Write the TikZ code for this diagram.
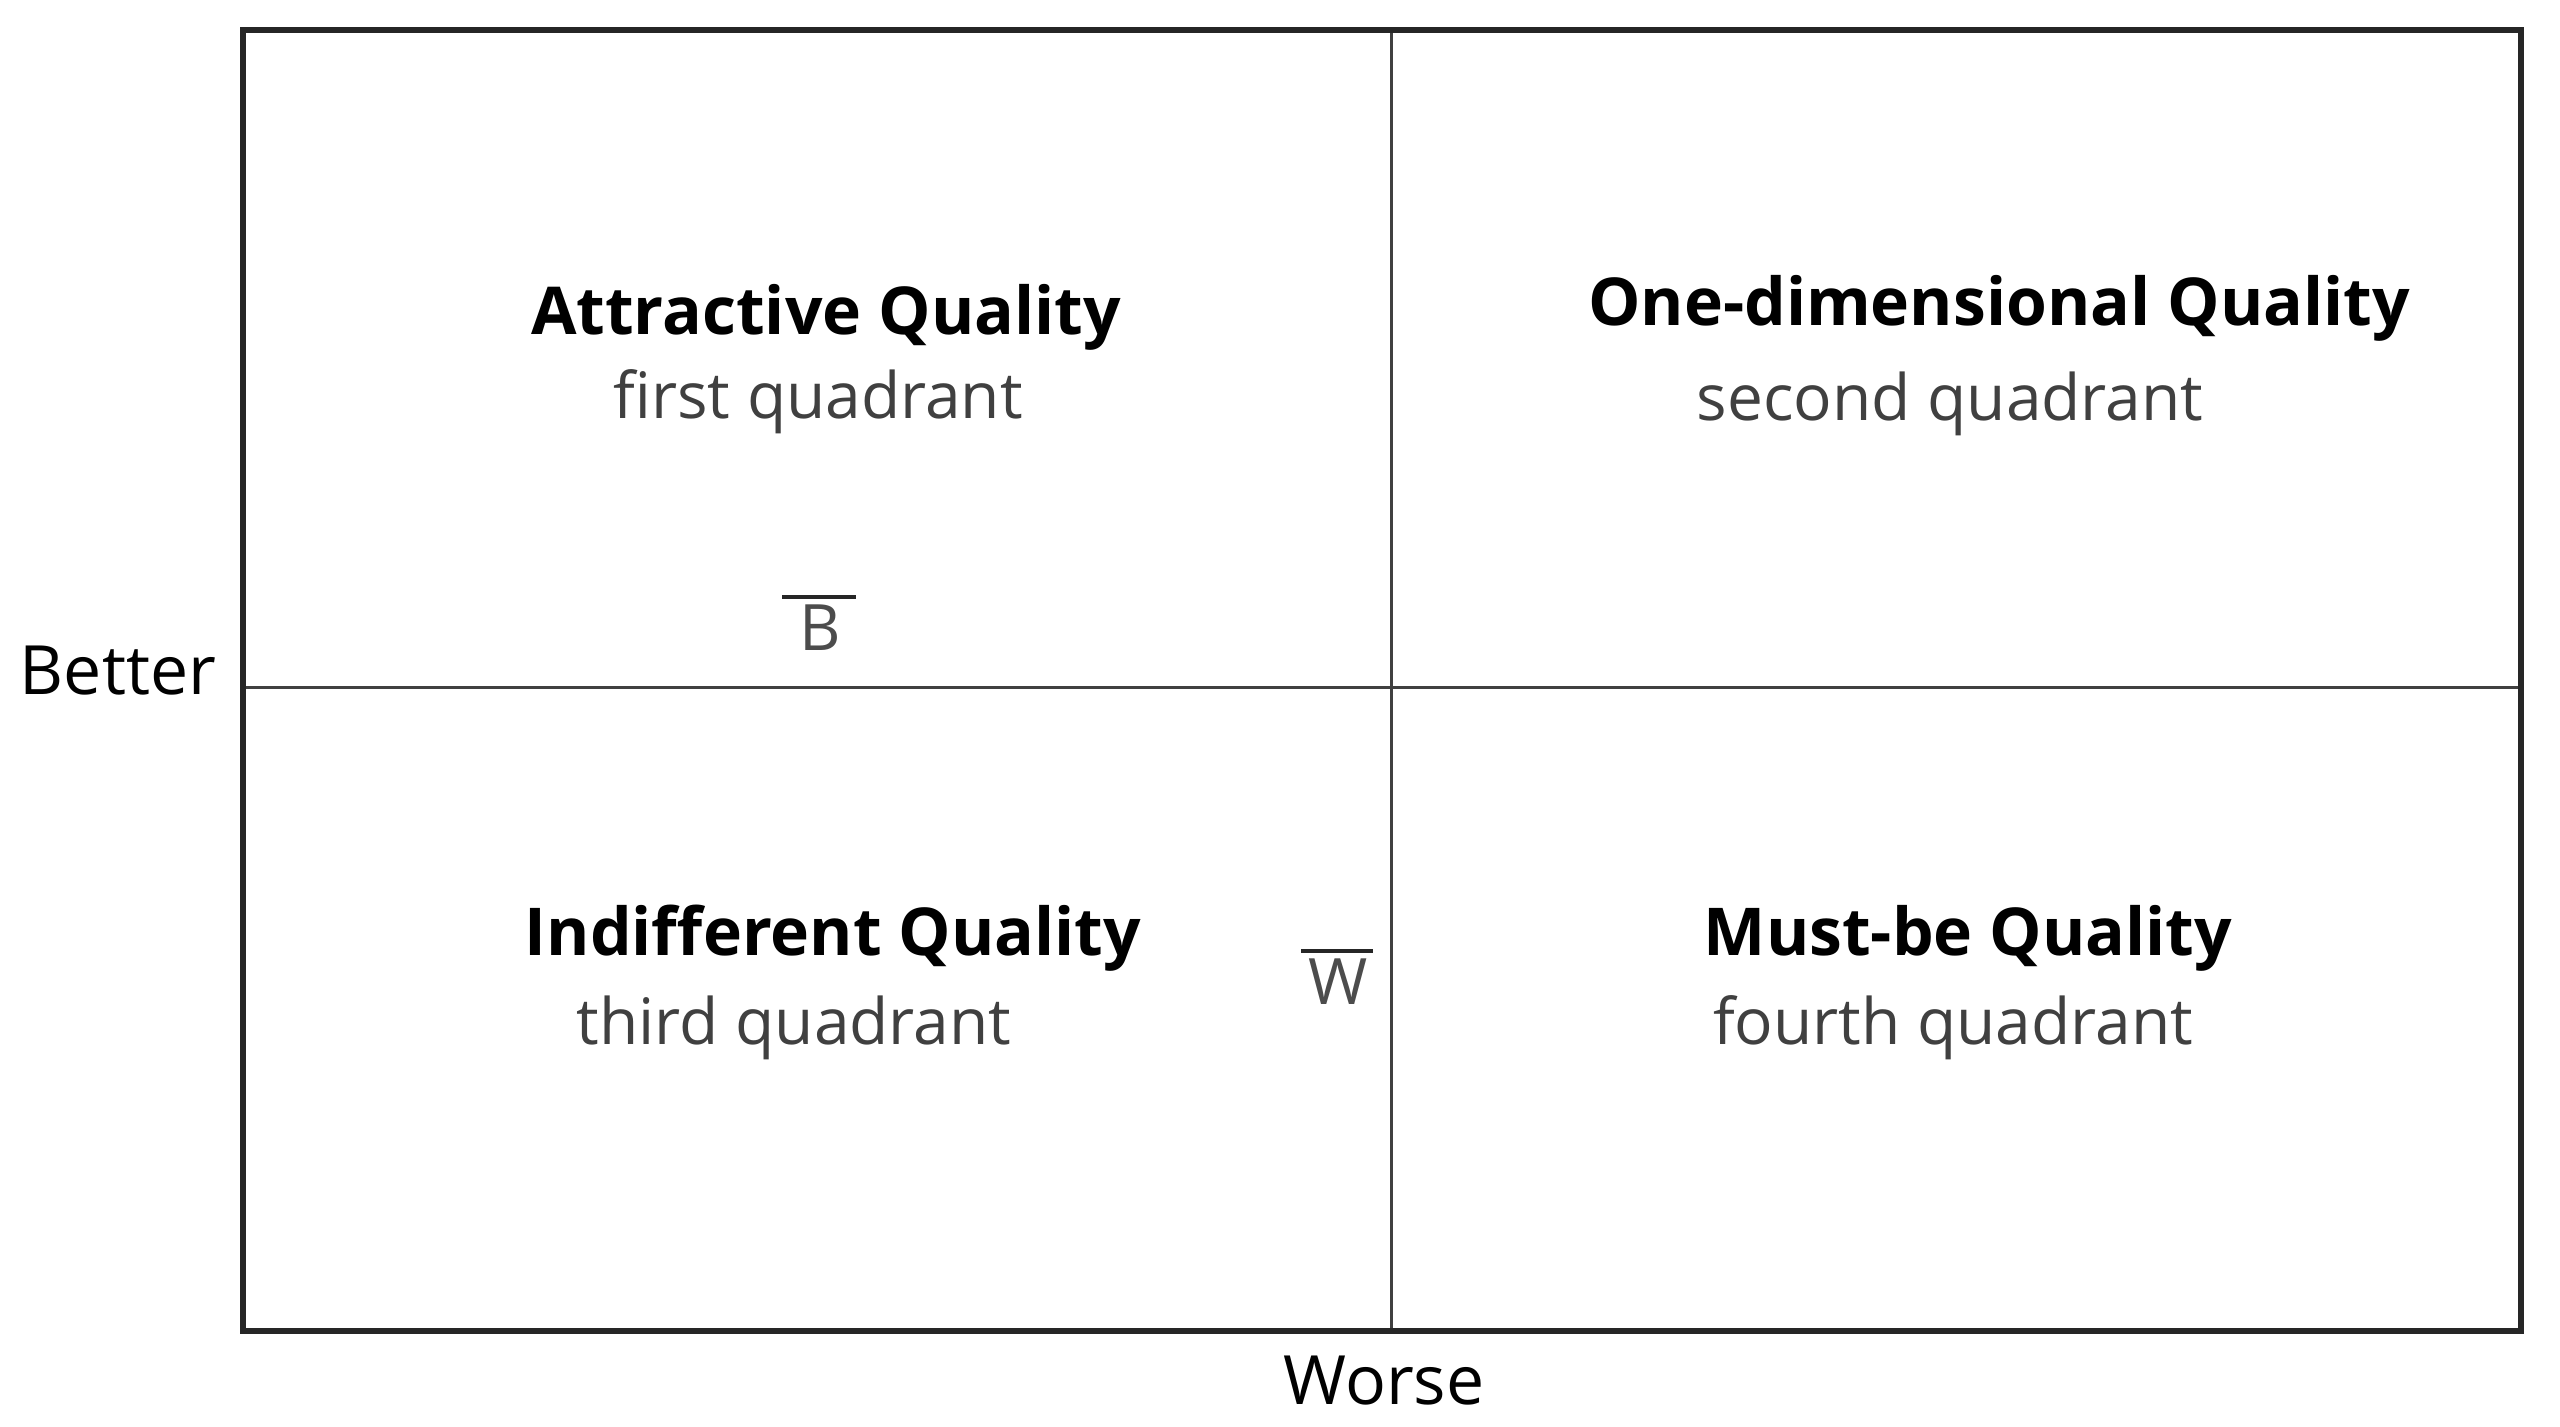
\documentclass[tikz,border=0pt]{standalone}
\usepackage{fontspec}
\setmainfont{Open Sans}
\begin{document}
\begin{tikzpicture}[x=0.25pt,y=-0.25pt,
  outer/.style={line width=1.6pt,draw=black!85},
  inner/.style={line width=0.75pt,draw=black!75},
  title/.style={font=\fontsize{16.5}{18}\selectfont\bfseries,text=black,inner sep=0pt},
  sub/.style={font=\fontsize{16}{18}\selectfont,text=black!75,inner sep=0pt},
  axis/.style={font=\fontsize{17}{19}\selectfont,text=black,inner sep=0pt},
  bar/.style={font=\fontsize{16}{18}\selectfont,text=black!70,inner sep=0pt},
  barline/.style={line width=1.1pt,draw=black!85}]
\useasboundingbox (0,0) rectangle (2560,1426);
\coordinate (tl) at (243,30);
\coordinate (br) at (2521,1331);
\coordinate (vt) at (1391,30);
\coordinate (vb) at (1391,1331);
\coordinate (hl) at (243,687);
\coordinate (hr) at (2521,687);
\draw[inner] (vt) -- (vb);
\draw[inner] (hl) -- (hr);
\draw[outer] (tl) rectangle (br);
\node[title] (aq) at (826,317) {Attractive Quality};
\node[sub] (fq) at (818,402) {first quadrant};
\node[title] (oq) at (1999,308) {One-dimensional Quality};
\node[sub] (sq) at (1950,404) {second quadrant};
\node[title] (iq) at (833,938) {Indifferent Quality};
\node[sub] (tq) at (794,1028) {third quadrant};
\node[title] (mq) at (1968,938) {Must-be Quality};
\node[sub] (uq) at (1953,1028) {fourth quadrant};
\node[bar] (bb) at (820,628) {B};
\coordinate (bb1) at (782,597);
\coordinate (bb2) at (856,597);
\draw[barline] (bb1) -- (bb2);
\node[bar] (ww) at (1338,982) {W};
\coordinate (ww1) at (1301,951);
\coordinate (ww2) at (1373,951);
\draw[barline] (ww1) -- (ww2);
\node[axis] (better) at (118,671) {Better};
\node[axis] (worse) at (1384,1381) {Worse};
\end{tikzpicture}
\end{document}
